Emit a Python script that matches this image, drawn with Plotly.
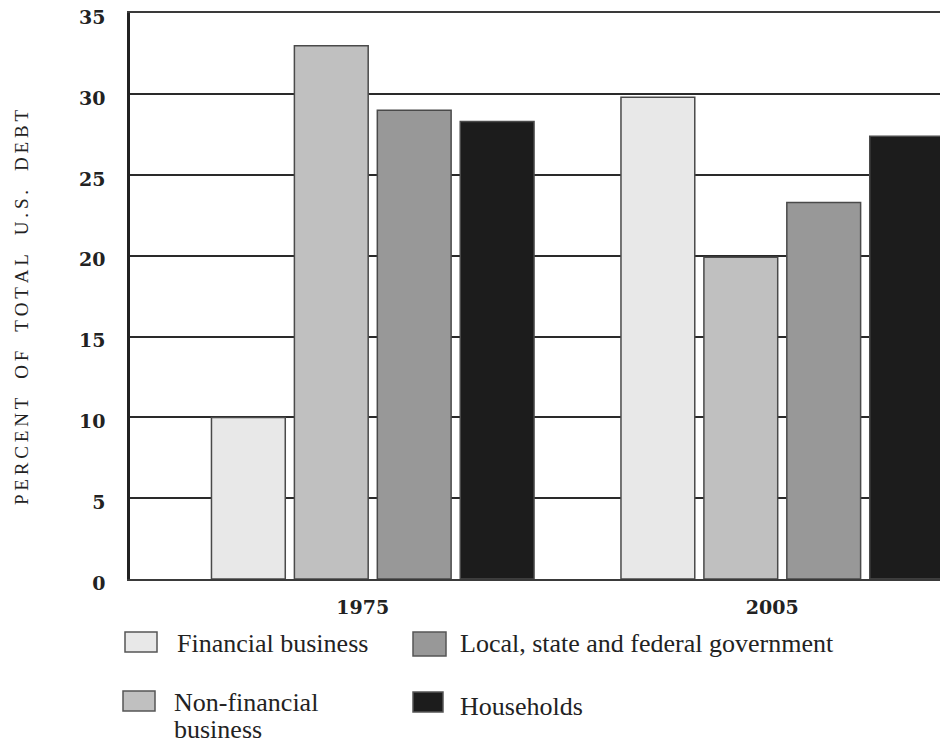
import plotly.graph_objects as go

# Share of total U.S. debt by borrowing sector
years = ["1975", "2005"]
series_names = [
    "Financial business",
    "Non-financial business",
    "Local, state and federal government",
    "Households",
]
financial = [10.0, 29.8]
non_financial = [33.0, 19.9]
government = [29.0, 23.3]
households = [28.3, 27.4]
y_ticks = [0, 5, 10, 15, 20, 25, 30, 35]

fills = ["#e8e8e8", "#c0c0c0", "#989898", "#1c1c1c"]
values = [financial, non_financial, government, households]

W, H = 940, 744
ML, MR, MT, MB = 130, 0, 13, 165
PW, PH = W - ML - MR, H - MT - MB


def px_x(px):
    return (px - ML) / PW


def px_y(py):
    return (H - MB - py) / PH


fig = go.Figure()
for name, vals, col in zip(series_names, values, fills):
    fig.add_trace(go.Bar(
        x=years, y=vals, name=name,
        marker=dict(color=col, line=dict(color="#4a4a4a", width=1.5)),
        showlegend=False,
    ))

tick_font = dict(family="DejaVu Serif", size=19, color="#222", weight="bold")

fig.update_layout(
    width=W, height=H,
    margin=dict(l=ML, r=MR, t=MT, b=MB),
    paper_bgcolor="white", plot_bgcolor="white",
    barmode="group", bargap=0.19, bargroupgap=0.11,
    font=dict(family="DejaVu Serif", color="#222"),
)
fig.update_xaxes(
    type="category", range=[-0.5928, 1.3852],
    showgrid=False, showline=True, mirror=True,
    linecolor="#3a3a3a", linewidth=2,
    ticks="", ticklabelstandoff=10, ticklabelshift=-10,
    tickfont=tick_font,
)
fig.update_yaxes(
    range=[0, 35.02], tickvals=y_ticks,
    showgrid=True, gridcolor="#2a2a2a", gridwidth=2,
    zeroline=False, showline=True, linecolor="#222", linewidth=2.5,
    ticks="", ticklabelstandoff=18, ticklabelshift=4,
    ticklabeloverflow="allow",
    tickfont=tick_font,
)

# Letter-spaced vertical axis title
title = "PERCENT OF TOTAL U.S. DEBT"
spaced = "\u2002\u2002".join("\u2009".join(w) for w in title.split(" "))
fig.add_annotation(
    text=spaced, textangle=-90, showarrow=False,
    xref="paper", yref="paper", x=px_x(22), y=px_y(308),
    xanchor="center", yanchor="middle",
    font=dict(family="Liberation Serif", size=19, color="#222"),
)

# Legend: swatches and labels in two columns
legend_swatches = [
    (125, 632, 157, 652),
    (123, 691, 155, 711),
    (413, 632, 446, 656),
    (413, 692, 443, 712),
]
legend_lines = [
    (175, 643, "Financial business"),
    (172, 702, "Non-financial"),
    (172, 729, "business"),
    (458, 643, "Local, state and federal government"),
    (458, 706, "Households"),
]
for idx, (x0, y0, x1, y1) in enumerate(legend_swatches):
    fig.add_shape(
        type="rect", xref="paper", yref="paper",
        x0=px_x(x0), x1=px_x(x1), y0=px_y(y1), y1=px_y(y0),
        fillcolor=fills[idx], line=dict(color="#555", width=1.5),
    )
for tx, ty, label in legend_lines:
    fig.add_annotation(
        text=label, showarrow=False, align="left",
        xref="paper", yref="paper", x=px_x(tx), y=px_y(ty),
        xanchor="left", yanchor="middle",
        font=dict(family="Liberation Serif", size=26, color="#222"),
    )

fig.write_html("out.html")
